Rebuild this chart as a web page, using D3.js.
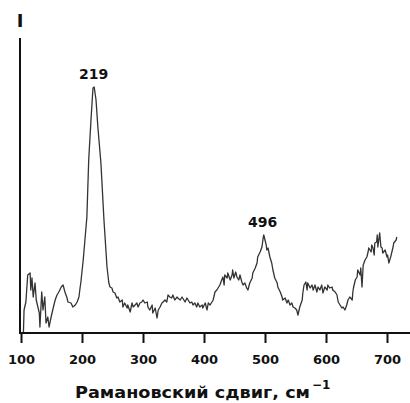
<!DOCTYPE html>
<html>
<head>
<meta charset="utf-8">
<script src="https://cdn.jsdelivr.net/npm/d3@7"></script>
<style>
  body { margin: 0; background: #fff; }
  svg { display: block; font-family: "DejaVu Sans", "Liberation Sans", Arial, sans-serif; }
</style>
</head>
<body>
<div id="chart"></div>
<script>
// Raman spectrum (wavenumber, cm-1 / intensity, arb. units)
const shift = [
  104, 105, 108, 111, 115, 116, 118, 120, 123, 125, 130, 131, 134, 136, 139, 141, 144, 146, 149, 152,
  156, 159, 162, 166, 169, 172, 175, 177, 182, 185, 189, 192, 195, 197, 198, 202, 208, 211, 215, 218,
  220, 223, 226, 231, 236, 241, 244, 246, 249, 251, 254, 257, 259, 262, 266, 267, 270, 274, 275, 279,
  282, 284, 287, 290, 292, 295, 298, 300, 303, 307, 308, 311, 315, 316, 320, 323, 325, 328, 331, 333,
  336, 339, 341, 344, 347, 349, 352, 356, 357, 361, 364, 369, 372, 374, 377, 380, 382, 385, 388, 390,
  393, 397, 398, 402, 405, 407, 410, 413, 415, 418, 421, 423, 426, 429, 431, 433, 434, 438, 439, 443,
  446, 447, 449, 452, 454, 457, 459, 462, 464, 467, 470, 472, 475, 479, 480, 484, 487, 488, 492, 495,
  497, 498, 502, 503, 505, 508, 511, 513, 516, 520, 521, 525, 528, 529, 533, 536, 538, 541, 544, 546,
  549, 552, 554, 557, 561, 562, 564, 567, 569, 570, 574, 577, 579, 582, 585, 587, 590, 593, 595, 598,
  602, 603, 606, 610, 611, 615, 618, 620, 623, 626, 628, 631, 634, 636, 639, 643, 644, 645, 648, 651,
  652, 656, 657, 659, 661, 664, 667, 669, 670, 674, 675, 677, 679, 680, 683, 684, 685, 688, 690, 692,
  693, 697, 700, 701, 703, 706, 708, 710, 711, 715, 716
];
const intensity = [
  1, 23, 31, 58, 60, 43, 55, 36, 50, 33, 20, 6, 41, 23, 36, 10, 16, 6, 15, 23,
  33, 38, 41, 46, 48, 41, 36, 31, 30, 26, 28, 31, 36, 46, 50, 73, 116, 173, 216, 245,
  246, 233, 206, 170, 113, 66, 50, 46, 45, 41, 40, 35, 36, 31, 33, 26, 30, 25, 28, 21,
  30, 26, 28, 30, 26, 30, 31, 33, 30, 31, 26, 23, 28, 20, 25, 15, 23, 26, 30, 31,
  33, 31, 38, 36, 35, 38, 33, 36, 35, 33, 36, 31, 35, 33, 30, 31, 28, 30, 26, 30,
  26, 28, 25, 30, 23, 30, 28, 31, 33, 41, 43, 45, 48, 53, 56, 48, 58, 55, 60, 53,
  58, 63, 55, 61, 56, 53, 58, 51, 48, 50, 45, 43, 50, 55, 60, 65, 70, 76, 81, 86,
  95, 98, 88, 83, 85, 76, 70, 63, 55, 50, 46, 41, 36, 33, 35, 30, 33, 28, 30, 26,
  25, 23, 18, 26, 33, 40, 48, 51, 43, 50, 45, 48, 43, 48, 41, 46, 43, 48, 40, 46,
  43, 48, 45, 46, 43, 41, 38, 31, 28, 25, 26, 23, 28, 33, 36, 33, 41, 45, 53, 56,
  63, 58, 65, 46, 68, 73, 76, 81, 85, 81, 88, 85, 78, 90, 91, 98, 86, 100, 86, 85,
  80, 83, 76, 78, 70, 76, 81, 86, 90, 93, 96
];
const xTicks = [100, 200, 300, 400, 500, 600, 700];
const peaks = [219, 496];

const data = shift.map((s, i) => ({ x: s, y: intensity[i] }));

const width = 410, height = 403;

const svg = d3.select("#chart")
    .append("svg")
    .attr("width", width)
    .attr("height", height);

const xScale = d3.scaleLinear()
    .domain([100, 700])
    .range([21, 387]);

const yScale = d3.scaleLinear()
    .domain([0, 295])
    .range([333, 38]);

// spectrum
const line = d3.line()
    .x(d => xScale(d.x))
    .y(d => yScale(d.y));

svg.append("path")
    .datum(data)
    .attr("fill", "none")
    .attr("stroke", "#333")
    .attr("stroke-width", 1.3)
    .attr("stroke-linejoin", "round")
    .attr("d", line);

// x axis
const xAxis = d3.axisBottom(xScale)
    .tickValues(xTicks)
    .tickSize(10)
    .tickPadding(12)
    .tickSizeOuter(0);

const gx = svg.append("g")
    .attr("transform", `translate(0,${yScale(0)})`)
    .call(xAxis);
gx.select(".domain").remove();
gx.selectAll(".tick line").attr("stroke", "#111").attr("stroke-width", 2);
gx.selectAll(".tick text")
    .attr("fill", "#111")
    .style("font-family", "'DejaVu Sans', sans-serif")
    .style("font-size", "13px")
    .style("font-weight", "bold");

svg.append("line")
    .attr("x1", 20).attr("x2", width)
    .attr("y1", yScale(0)).attr("y2", yScale(0))
    .attr("stroke", "#111")
    .attr("stroke-width", 2);

// y axis (no ticks)
svg.append("line")
    .attr("x1", 20).attr("x2", 20)
    .attr("y1", yScale(0) + 1).attr("y2", yScale(295))
    .attr("stroke", "#111")
    .attr("stroke-width", 2);

svg.append("text")
    .attr("x", 20)
    .attr("y", 27)
    .attr("text-anchor", "middle")
    .attr("fill", "#111")
    .style("font-size", "18px")
    .style("font-weight", "bold")
    .text("I");

// peak labels
peaks.forEach(p => {
    const top = d3.max(data.filter(d => Math.abs(d.x - p) < 6), d => d.y);
    svg.append("text")
        .attr("x", xScale(p))
        .attr("y", yScale(top) - 8.5)
        .attr("text-anchor", "middle")
        .attr("fill", "#111")
        .style("font-size", "14px")
        .style("font-weight", "bold")
        .text(p);
});

// axis title
svg.append("text")
    .attr("x", 75)
    .attr("y", 398)
    .attr("fill", "#111")
    .attr("textLength", 235)
    .attr("lengthAdjust", "spacingAndGlyphs")
    .style("font-size", "16px")
    .style("font-weight", "bold")
    .text("Рамановский сдвиг, см");

svg.append("text")
    .attr("x", 312)
    .attr("y", 389)
    .attr("fill", "#111")
    .style("font-size", "12px")
    .style("font-weight", "bold")
    .text("−1");
</script>
</body>
</html>
